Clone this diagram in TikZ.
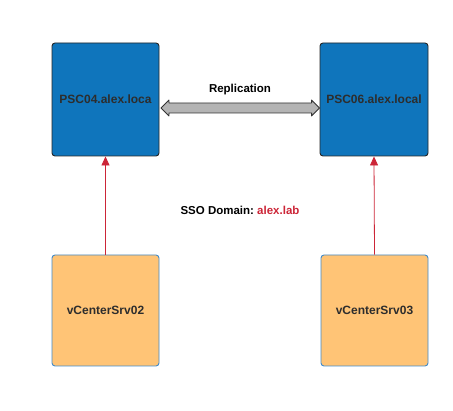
\documentclass[tikz,border=0pt]{standalone}
\usepackage{fontspec}
\setmainfont{Liberation Sans}
\usepackage{tikz}
\usetikzlibrary{positioning}
\usetikzlibrary{arrows.meta}
\usetikzlibrary{calc}

\definecolor{pscblue}{RGB}{15,117,188}
\definecolor{vcorange}{RGB}{255,196,118}
\definecolor{vcborder}{RGB}{66,139,202}
\definecolor{linkred}{RGB}{204,37,55}
\definecolor{repgray}{RGB}{180,180,180}
\definecolor{labelgray}{RGB}{45,45,45}

\tikzset{
  pscbox/.style={draw=black!85, line width=0.9pt, fill=pscblue, rounded corners=3pt,
    minimum width=107pt, minimum height=113pt, inner sep=0pt,
    font=\fontsize{12}{14}\selectfont\bfseries, text=labelgray},
  vcbox/.style={draw=vcborder, line width=0.9pt, fill=vcorange, rounded corners=3pt,
    minimum width=107pt, minimum height=111pt, inner sep=0pt,
    font=\fontsize{12}{14}\selectfont\bfseries, text=labelgray},
  reglink/.style={draw=linkred, line width=0.8pt, -{Triangle[length=9pt,width=8pt]}},
  caption/.style={font=\fontsize{11.5}{13}\selectfont\bfseries}
}

\begin{document}
\begin{tikzpicture}
\useasboundingbox (0,0) rectangle (453pt,-411pt);
% PSC nodes
\node[pscbox] (psc04) at (105.5pt,-99.5pt) {PSC04.alex.loca};
\node[pscbox, minimum width=108pt] (psc06) at (374pt,-99.5pt) {PSC06.alex.local};
% vCenter nodes
\node[vcbox] (vc02) at (105.5pt,-310.5pt) {vCenterSrv02};
\node[vcbox] (vc03) at (374.5pt,-310.5pt) {vCenterSrv03};
% registration links
\draw[reglink] (vc02.north) -- (psc04.south);
\draw[reglink] (vc03.north) -- (psc06.south);
% replication arrow
\coordinate (repL) at ($(psc04.east)+(1.5pt,-8.5pt)$);
\coordinate (repR) at ($(psc06.west)+(0pt,-8.5pt)$);
\draw[fill=repgray, draw=black!80, line width=0.9pt, line join=round]
  (repL) -- ($(repL)+(8pt,8pt)$) -- ($(repL)+(8pt,5pt)$)
  -- ($(repR)+(-8pt,5pt)$) -- ($(repR)+(-8pt,8pt)$) -- (repR)
  -- ($(repR)+(-8pt,-8pt)$) -- ($(repR)+(-8pt,-5pt)$)
  -- ($(repL)+(8pt,-5pt)$) -- ($(repL)+(8pt,-8pt)$) -- cycle;
\node[caption] (replabel) at (240pt,-90pt) {Replication};
% domain label
\node[caption] (domain) at (240pt,-210pt) {SSO Domain:~\textcolor{linkred}{alex.lab}};
\end{tikzpicture}
\end{document}
